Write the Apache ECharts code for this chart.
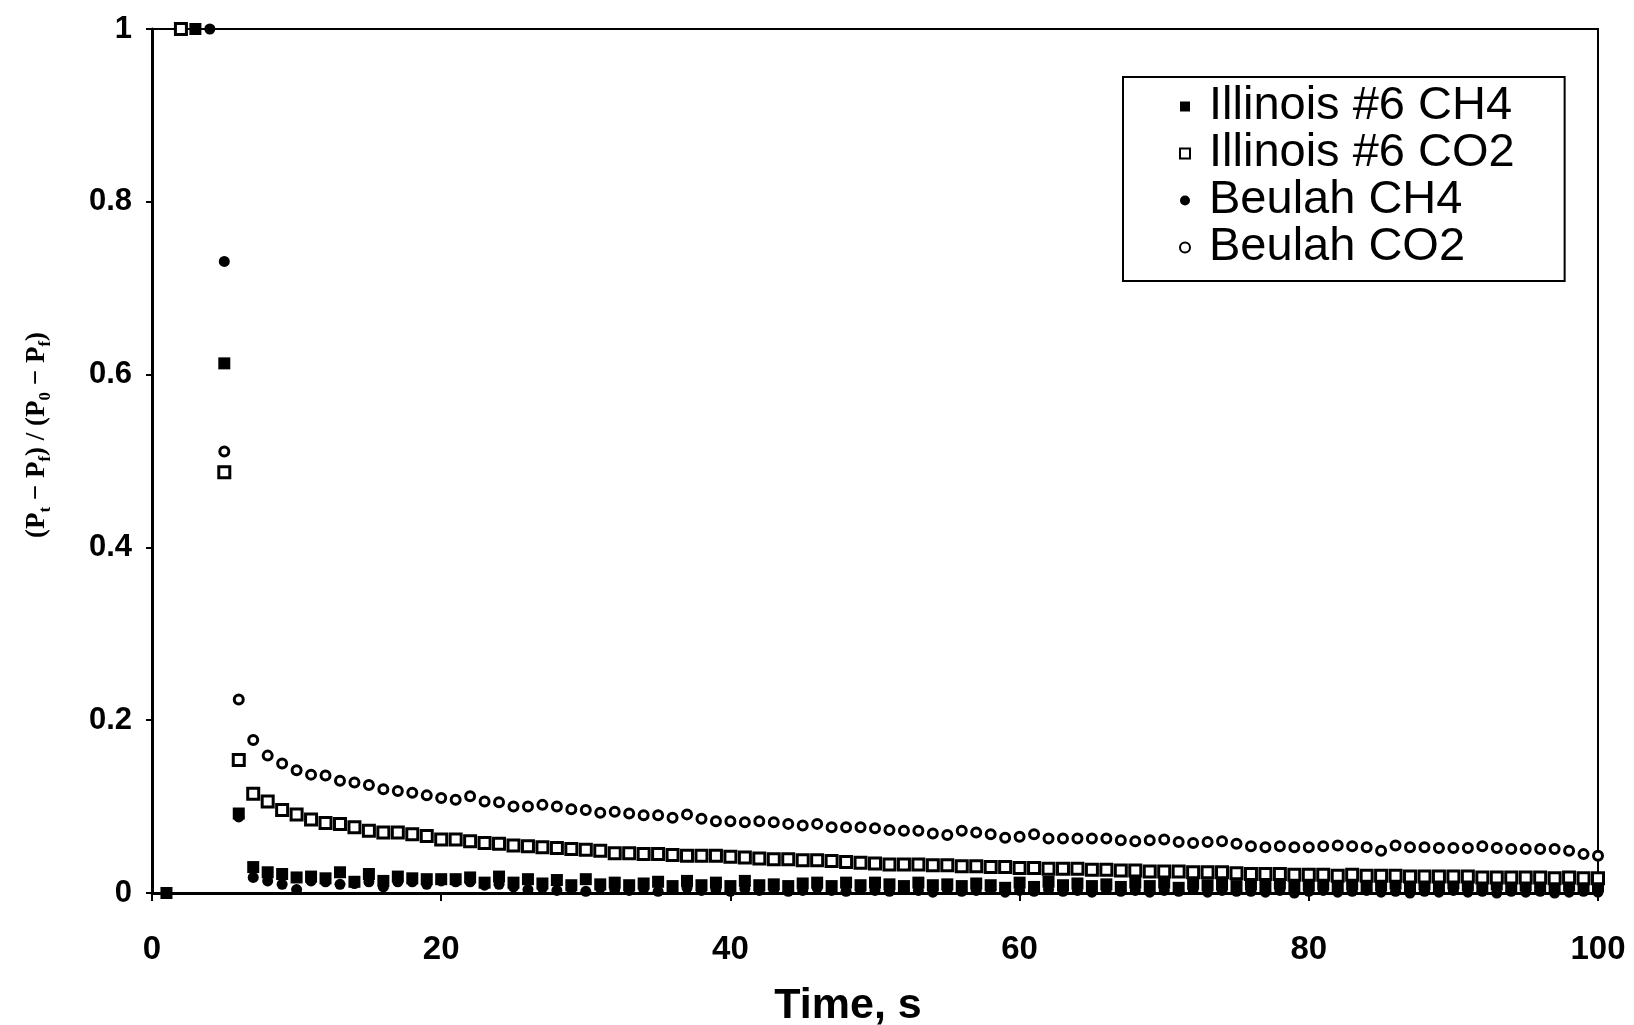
<!DOCTYPE html>
<html><head><meta charset="utf-8">
<script src="https://cdn.jsdelivr.net/npm/echarts@6/dist/echarts.min.js"></script>
<style>html,body{margin:0;padding:0;background:#fff}#c{width:1634px;height:1025px}</style>
</head><body><div id="c"></div>
<script>
// ---- data ----
const seriesNames = ['Illinois #6 CH4', 'Illinois #6 CO2', 'Beulah CH4', 'Beulah CO2'];
const xTicks = [0, 20, 40, 60, 80, 100];
const yTicks = [0, 0.2, 0.4, 0.6, 0.8, 1];

// early points (time, value)
const illCH4EarlyT = [1, 3, 5];
const illCH4EarlyV = [0, 1, 0.613];
const illCO2EarlyT = [2, 5];
const illCO2EarlyV = [1, 0.487];
const beuCH4EarlyT = [4, 5];
const beuCH4EarlyV = [1, 0.731];
const beuCO2EarlyT = [5];
const beuCO2EarlyV = [0.511];

// sampled times for the tails
const times = [6,7,8,9,10,11,12,13,14,15,16,17,18,19,20,21,22,23,24,25,26,27,28,29,30,31,32,33,34,35,36,37,38,39,40,41,42,43,44,45,46,47,48,49,50,51,52,53,54,55,56,57,58,59,60,61,62,63,64,65,66,67,68,69,70,71,72,73,74,75,76,77,78,79,80,81,82,83,84,85,86,87,88,89,90,91,92,93,94,95,96,97,98,99,100];

const illCH4 = [0.092,0.030,0.024,0.022,0.018,0.019,0.017,0.024,0.013,0.022,0.014,0.019,0.017,0.016,0.016,0.016,0.018,0.012,0.019,0.012,
0.016,0.011,0.015,0.009,0.016,0.010,0.012,0.009,0.011,0.013,0.008,0.014,0.009,0.012,0.008,0.014,0.009,0.010,0.008,0.011,0.012,0.008,0.012,0.009,0.012,
0.010,0.008,0.012,0.009,0.010,0.008,0.011,0.009,0.006,0.012,0.007,0.013,0.009,0.011,0.008,0.010,0.007,0.012,0.008,0.012,0.006,0.011,0.009,0.010,0.008,
0.010,0.008,0.011,0.007,0.009,0.010,0.006,0.010,0.008,0.009,0.011,0.007,0.010,0.008,0.011,0.009,0.007,0.010,0.008,0.009,0.006,0.008,0.009,0.007,0.008];

const illCO2 = [0.154,0.115,0.106,0.096,0.091,0.085,0.081,0.080,0.076,0.072,0.070,0.070,0.068,0.066,0.062,0.062,0.060,0.058,0.057,0.055,0.054,
0.053,0.052,0.051,0.050,0.049,0.046,0.046,0.045,0.045,0.044,0.043,0.043,0.043,0.042,0.041,0.040,0.039,0.039,0.038,0.038,0.037,0.036,0.035,0.034,
0.033,0.033,0.033,0.032,0.032,0.031,0.031,0.030,0.030,0.029,0.029,0.028,0.028,0.028,0.027,0.027,0.026,0.026,0.025,0.025,0.025,0.024,0.024,0.024,0.023,
0.022,0.022,0.022,0.021,0.021,0.021,0.020,0.021,0.020,0.020,0.020,0.019,0.019,0.019,0.019,0.019,0.018,0.018,0.018,0.018,0.018,0.017,0.018,0.017,0.017];

const beuCH4 = [0.088,0.018,0.014,0.010,0.004,0.014,0.013,0.010,0.011,0.013,0.007,0.013,0.013,0.010,0.014,0.013,0.013,0.009,0.010,0.007,
0.004,0.006,0.003,0.005,0.002,0.006,0.004,0.003,0.005,0.002,0.004,0.006,0.003,0.004,0.002,0.005,0.003,0.004,0.002,0.003,0.006,0.003,0.002,0.004,0.003,
0.002,0.004,0.003,0.001,0.004,0.002,0.003,0.004,0.001,0.003,0.002,0.004,0.002,0.003,0.001,0.004,0.002,0.003,0.001,0.003,0.002,0.004,0.001,0.003,0.002,
0.002,0.001,0.003,0.000,0.002,0.003,0.001,0.002,0.003,0.001,0.002,0.000,0.002,0.001,0.003,0.001,0.002,0.000,0.002,0.001,0.002,0.000,0.001,0.002,0.001];

const beuCO2 = [0.224,0.177,0.159,0.150,0.142,0.137,0.136,0.130,0.128,0.125,0.120,0.118,0.116,0.113,0.110,0.108,0.112,0.106,0.105,0.100,0.100,
0.102,0.100,0.097,0.096,0.093,0.094,0.092,0.090,0.090,0.087,0.091,0.086,0.083,0.083,0.082,0.083,0.082,0.080,0.078,0.080,0.076,0.076,0.076,0.075,
0.073,0.072,0.072,0.069,0.067,0.072,0.070,0.068,0.064,0.065,0.068,0.063,0.063,0.063,0.063,0.063,0.061,0.060,0.061,0.062,0.059,0.058,0.059,0.060,0.057,
0.054,0.053,0.054,0.053,0.053,0.054,0.055,0.054,0.053,0.049,0.055,0.053,0.053,0.052,0.052,0.052,0.054,0.052,0.051,0.051,0.051,0.051,0.049,0.045,0.043];

function pts(et, ev, vals) {
  const out = et.map((t, i) => [t, ev[i]]);
  times.forEach((t, i) => out.push([t, vals[i]]));
  return out;
}

const chart = echarts.init(document.getElementById('c'));
const font = 'Liberation Sans, Arial, sans-serif';
const noEmph = { disabled: true };
chart.setOption({
  animation: false,
  backgroundColor: '#fff',
  grid: { left: 152, right: 36, top: 29, bottom: 132, show: true, borderColor: '#000', borderWidth: 2,
          containLabel: false, outerBoundsMode: 'none' },
  legend: {
    orient: 'vertical', left: 1123, top: 77,
    padding: [6, 50, 10, 56],
    itemGap: 0, itemWidth: 10, itemHeight: 10,
    borderColor: '#000', borderWidth: 2,
    selectedMode: false,
    textStyle: { fontFamily: font, fontSize: 47, color: '#000', lineHeight: 47, padding: [0, 0, 0, 14] },
    data: seriesNames
  },
  xAxis: {
    type: 'value', min: xTicks[0], max: xTicks[xTicks.length - 1], interval: 20,
    name: 'Time, s', nameLocation: 'middle', nameGap: 92,
    nameTextStyle: { fontFamily: font, fontSize: 43, fontWeight: 'bold', color: '#000', padding: [0, 54, 0, 0] },
    axisLine: { show: true, lineStyle: { color: '#000', width: 3 } },
    axisTick: { show: true, length: 8, lineStyle: { color: '#000', width: 2 } },
    axisLabel: { fontFamily: font, fontSize: 33, fontWeight: 'bold', color: '#000', margin: 40 },
    splitLine: { show: false }
  },
  yAxis: {
    type: 'value', min: yTicks[0], max: yTicks[yTicks.length - 1], interval: 0.2,
    name: '(P{s|t} − P{s|f}) / (P{s|0} − P{s|f})', nameLocation: 'middle', nameGap: 98,
    nameTextStyle: {
      fontFamily: 'Liberation Serif, serif', fontSize: 27, fontWeight: 'bold', color: '#000', lineHeight: 34,
      padding: [0, 0, 0, 52],
      rich: { s: { fontFamily: 'Liberation Serif, serif', fontSize: 17, fontWeight: 'bold', color: '#000', verticalAlign: 'bottom', lineHeight: 34 } }
    },
    axisLine: { show: true, lineStyle: { color: '#000', width: 3 } },
    axisTick: { show: true, length: 6, lineStyle: { color: '#000', width: 2 } },
    axisLabel: { fontFamily: font, fontSize: 31, fontWeight: 'bold', color: '#000', margin: 20 },
    splitLine: { show: false }
  },
  series: [
    { name: seriesNames[0], type: 'scatter', symbol: 'rect', symbolSize: 12, emphasis: noEmph,
      itemStyle: { color: '#000', opacity: 1 }, data: pts(illCH4EarlyT, illCH4EarlyV, illCH4) },
    { name: seriesNames[1], type: 'scatter', symbol: 'rect', symbolSize: 11, emphasis: noEmph,
      itemStyle: { color: '#fff', borderColor: '#000', borderWidth: 3, opacity: 1 }, data: pts(illCO2EarlyT, illCO2EarlyV, illCO2) },
    { name: seriesNames[2], type: 'scatter', symbol: 'circle', symbolSize: 11, emphasis: noEmph,
      itemStyle: { color: '#000', opacity: 1 }, data: pts(beuCH4EarlyT, beuCH4EarlyV, beuCH4) },
    { name: seriesNames[3], type: 'scatter', symbol: 'circle', symbolSize: 9, emphasis: noEmph,
      itemStyle: { color: '#fff', borderColor: '#000', borderWidth: 3, opacity: 1 }, data: pts(beuCO2EarlyT, beuCO2EarlyV, beuCO2) }
  ]
});
</script></body></html>
